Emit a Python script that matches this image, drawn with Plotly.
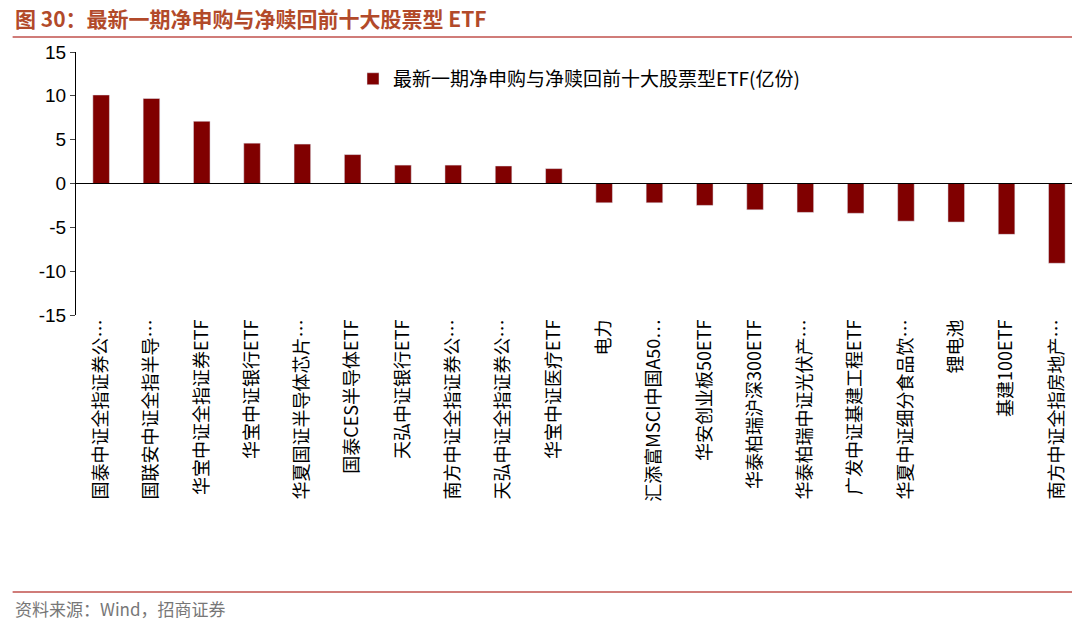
import plotly.graph_objects as go

categories = ["国泰中证全指证券公…","国联安中证全指半导…","华宝中证全指证券ETF","华宝中证银行ETF","华夏国证半导体芯片…",
 "国泰CES半导体ETF","天弘中证银行ETF","南方中证全指证券公…","天弘中证全指证券公…","华宝中证医疗ETF",
 "电力","汇添富MSCI中国A50…","华安创业板50ETF","华泰柏瑞沪深300ETF","华泰柏瑞中证光伏产…",
 "广发中证基建工程ETF","华夏中证细分食品饮…","锂电池","基建100ETF","南方中证全指房地产…"]
values = [10.1, 9.7, 7.1, 4.6, 4.5, 3.3, 2.1, 2.1, 2.0, 1.7,
          -2.2, -2.2, -2.5, -3.0, -3.3, -3.4, -4.3, -4.4, -5.8, -9.1]
series_name = "最新一期净申购与净赎回前十大股票型ETF(亿份)"
y_ticks = [-15, -10, -5, 0, 5, 10, 15]
y_tick_labels = ["-15", "-10", "-5", "0", "5", "10", "15"]

font = "Noto Sans CJK SC"
fig = go.Figure(go.Bar(x=categories, y=values, name=series_name, marker_color="#800000", width=0.33))
fig.update_layout(
    width=1080, height=624, plot_bgcolor="white", paper_bgcolor="white",
    margin=dict(l=68, r=6, t=44, b=317),
    font=dict(family=font, size=18, color="black"),
    showlegend=True,
    legend=dict(x=0.5, y=0.97, xanchor="center", yanchor="top", font=dict(size=19), bgcolor="rgba(0,0,0,0)"),
    yaxis=dict(range=[-15, 15], tickvals=y_ticks, ticktext=y_tick_labels, showgrid=False, zeroline=False,
               showline=True, linecolor="black", ticks="outside", ticklen=5,
               tickfont=dict(size=19, family="Liberation Sans")),
    xaxis=dict(showline=False, tickangle=-90, tickfont=dict(size=18), ticks=""),
    shapes=[dict(type="line", xref="paper", yref="y", x0=0, x1=1, y0=0, y1=0, line=dict(color="black", width=1)),
            dict(type="line", xref="paper", yref="paper", x0=-0.063, x1=1.0, y0=1.057, y1=1.057,
                 line=dict(color="#C0504D", width=1.5)),
            dict(type="line", xref="paper", yref="paper", x0=-0.063, x1=1.0, y0=-1.053, y1=-1.053,
                 line=dict(color="#C0504D", width=1.5))],
    annotations=[
        dict(text="<b>图 30：最新一期净申购与净赎回前十大股票型 ETF</b>", xref="paper", yref="paper",
             x=-0.063, y=1.13, xanchor="left", yanchor="middle", showarrow=False,
             font=dict(size=21, color="#B24A2A", family=font)),
        dict(text="资料来源：Wind，招商证券", xref="paper", yref="paper", x=-0.063, y=-1.115,
             xanchor="left", yanchor="middle", showarrow=False, font=dict(size=17, color="#777777", family=font)),
    ],
)
fig.write_html("out.html")
